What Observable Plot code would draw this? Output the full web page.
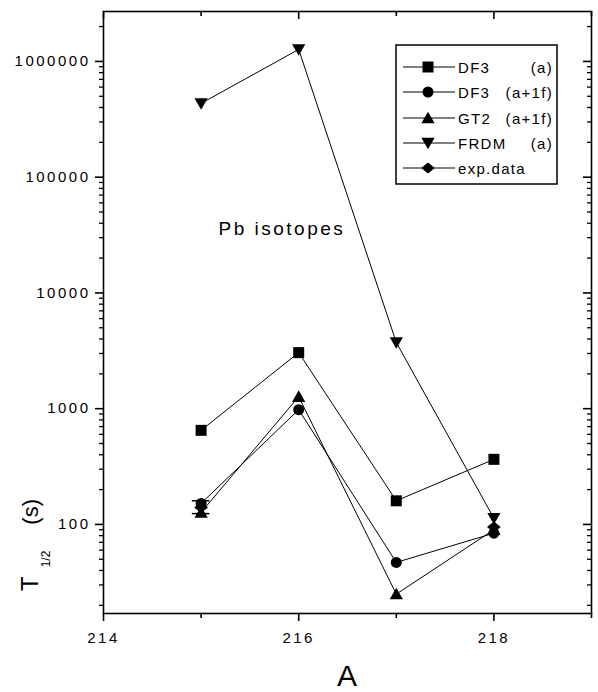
<!DOCTYPE html>
<html><head><meta charset="utf-8">
<script src="https://cdn.jsdelivr.net/npm/d3@7"></script>
<script src="https://cdn.jsdelivr.net/npm/@observablehq/plot@0.6"></script>
<style>
body{margin:0;background:#fff;}
#wrap{position:relative;width:598px;height:692px;font-family:"Liberation Sans",Arial,sans-serif;}
#wrap svg{position:absolute;left:0;top:0;overflow:visible;}
#wrap svg text{letter-spacing:2.5px;}
</style></head><body><div id="wrap"></div>
<script>
// ---- data ----
const massNumbers = [215, 216, 217, 218];
const df3a   = [650, 3050, 160, 365];
const df3a1f = [152, 980, 47, 84];
const gt2a1f = [127, 1270, 25, 90];
const frdm   = [434000, 1270000, 3730, 113];
const expA   = [215, 218];
const expT   = [140, 95];
const expLow = [124, 95];
const expHigh= [160, 95];
const legendNames = ["DF3", "DF3", "GT2", "FRDM", "exp.data"];
const legendNotes = ["(a)", "(a+1f)", "(a+1f)", "(a)", ""];
const xMajorTicks = [214, 216, 218];
const xMinorTicks = [215, 217, 219];
const yMajorTicks = [100, 1000, 10000, 100000, 1000000];
const yMinorMultipliers = [2, 3, 4, 5, 6, 7, 8, 9];
const annotation = "Pb isotopes";

// ---- symbols ----
const rr = s => Math.sqrt(s / Math.PI);
const symSquare = {draw(c, s){const r = rr(s); c.rect(-r, -r, 2*r, 2*r);}};
const symCircle = {draw(c, s){const r = rr(s); c.moveTo(r, 0); c.arc(0, 0, r, 0, 2*Math.PI);}};
const symTriUp = {draw(c, s){const r = rr(s); c.moveTo(0, -1.15*r); c.lineTo(1.2*r, 0.95*r); c.lineTo(-1.2*r, 0.95*r); c.closePath();}};
const symTriDown = {draw(c, s){const r = rr(s); c.moveTo(0, 1.15*r); c.lineTo(1.2*r, -0.95*r); c.lineTo(-1.2*r, -0.95*r); c.closePath();}};
const symDiamond = {draw(c, s){const r = rr(s); c.moveTo(0, -1.0*r); c.lineTo(1.25*r, 0); c.lineTo(0, 1.0*r); c.lineTo(-1.25*r, 0); c.closePath();}};
const symbols = [symSquare, symCircle, symTriUp, symTriDown, symDiamond];

const seriesValues = [df3a, df3a1f, gt2a1f, frdm];
const rows = seriesValues.flatMap((vals, i) => vals.map((v, j) => ({s: i, A: massNumbers[j], T: v})));
const expRows = expA.map((a, i) => ({A: a, T: expT[i], lo: expLow[i], hi: expHigh[i]}));
const errRows = expRows.filter(d => d.lo !== d.hi);

const W = 598, H = 692, ML = 103, MR = 7, MT = 11, MB = 79;
const PW = W - ML - MR, PH = H - MT - MB;
const yDomain = [17, 2.7e6];
const yMinor = Array.from(new Set([10, ...yMajorTicks].flatMap(d => yMinorMultipliers.map(m => d * m))))
  .filter(v => v >= yDomain[0] && v <= yDomain[1]);
const noLabel = () => "";

const marks = [
  Plot.frame({stroke: "black", strokeWidth: 1.6}),
  Plot.axisX({ticks: xMajorTicks, tickSize: 8, tickPadding: 11, tickFormat: d => String(d), label: null, strokeWidth: 1.6}),
  Plot.axisX({ticks: xMinorTicks, tickSize: 5, tickFormat: noLabel, label: null, strokeWidth: 1.6}),
  Plot.axisY({ticks: yMajorTicks, tickSize: 8, tickPadding: 5, tickFormat: d => String(d), label: null, strokeWidth: 1.6}),
  Plot.axisY({ticks: yMinor, tickSize: 4, tickFormat: noLabel, label: null, strokeWidth: 1.3}),
  Plot.tickX(xMajorTicks, {x: d => d, insetBottom: PH - 8, strokeWidth: 1.6}),
  Plot.tickX(xMinorTicks, {x: d => d, insetBottom: PH - 5, strokeWidth: 1.6}),
  Plot.tickY(yMajorTicks, {y: d => d, insetLeft: PW - 8, strokeWidth: 1.6}),
  Plot.tickY(yMinor, {y: d => d, insetLeft: PW - 4, strokeWidth: 1.3}),
  Plot.line(rows, {x: "A", y: "T", z: "s", stroke: "black", strokeWidth: 1}),
  Plot.ruleX(errRows, {x: "A", y1: "lo", y2: "hi", stroke: "black", strokeWidth: 1.5}),
  Plot.ruleY(errRows, {y: "lo", x1: d => d.A - 0.09, x2: d => d.A + 0.09, stroke: "black", strokeWidth: 1.5}),
  Plot.ruleY(errRows, {y: "hi", x1: d => d.A - 0.09, x2: d => d.A + 0.09, stroke: "black", strokeWidth: 1.5}),
  ...seriesValues.map((vals, i) => Plot.dot(rows.filter(d => d.s === i), {x: "A", y: "T", symbol: symbols[i], r: 5.5, fill: "black", stroke: "none"})),
  Plot.dot(expRows, {x: "A", y: "T", symbol: symDiamond, r: 5.5, fill: "black", stroke: "none"}),
  Plot.text([annotation], {text: d => d, frameAnchor: "top-left", dx: 115, dy: 210, fontSize: 19, textAnchor: "start", fill: "black"})
];

const chart = Plot.plot({
  width: W, height: H,
  marginLeft: ML, marginRight: MR, marginTop: MT, marginBottom: MB,
  x: {domain: [214, 219]},
  y: {type: "log", domain: yDomain},
  style: {fontFamily: "'Liberation Sans', Arial, sans-serif", fontSize: "15px", color: "black", background: "white", overflow: "visible"},
  marks
});
const wrap = document.getElementById("wrap");
wrap.appendChild(chart);

// overlay: axis titles and legend
const ov = d3.select(wrap).append("svg").attr("width", W).attr("height", H).style("font-family", "'Liberation Sans', Arial, sans-serif");
ov.append("text").attr("x", ML + PW / 2).attr("y", 686).attr("text-anchor", "middle").attr("font-size", 30).style("letter-spacing", "0px").text("A");
const yl = ov.append("text").attr("transform", "translate(38,591) rotate(-90)").attr("font-size", 24).style("letter-spacing", "0px");
yl.append("tspan").text("T");
yl.append("tspan").attr("font-size", 12).attr("dx", 9).attr("dy", 12).text("1/2");
yl.append("tspan").attr("font-size", 22).attr("dx", 26).attr("dy", -12).text("(s)");

const lg = ov.append("g");
lg.append("rect").attr("x", 396).attr("y", 45).attr("width", 161).attr("height", 139).attr("fill", "white").attr("stroke", "black").attr("stroke-width", 1.5);
const rowY = [67, 92, 118, 143, 168];
legendNames.forEach((nm, i) => {
  const y = rowY[i];
  lg.append("line").attr("x1", 403).attr("x2", 455).attr("y1", y).attr("y2", y).attr("stroke", "black").attr("stroke-width", 1);
  lg.append("path").attr("transform", `translate(428,${y})`).attr("d", d3.symbol(symbols[i], Math.PI * 5.5 * 5.5)()).attr("fill", "black");
  lg.append("text").attr("x", 458).attr("y", y + 5.5).attr("font-size", 15).style("letter-spacing", "1.3px").text(nm);
  if (legendNotes[i]) lg.append("text").attr("x", 553).attr("y", y + 5.5).attr("text-anchor", "end").attr("font-size", 15).style("letter-spacing", "1.3px").text(legendNotes[i]);
});
</script></body></html>
